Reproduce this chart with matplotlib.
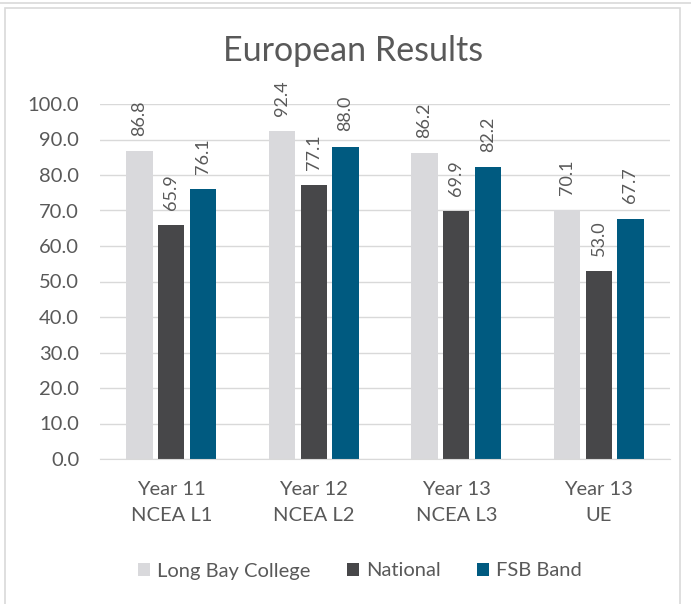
import numpy as np
import matplotlib.pyplot as plt
from matplotlib.patches import Rectangle

plt.rcParams['font.family'] = ['Lato', 'DejaVu Sans']

# results by year level
categories = ['Year 11\nNCEA L1', 'Year 12\nNCEA L2', 'Year 13\nNCEA L3', 'Year 13\nUE']
series_names = ['Long Bay College', 'National', 'FSB Band']
long_bay = [86.8, 92.4, 86.2, 70.1]
national = [65.9, 77.1, 69.9, 53.0]
fsb_band = [76.1, 88.0, 82.2, 67.7]
yticks = [0, 10, 20, 30, 40, 50, 60, 70, 80, 90, 100]

colors = ['#d9d9dc', '#474749', '#005a80']
text_col = '#595959'

fig = plt.figure(figsize=(6.91, 6.04), dpi=100)
ax = fig.add_axes([100 / 691, 1 - 459 / 604, 570 / 691, 355 / 604])

# chart frame
fig.patches.append(Rectangle((5 / 691, -0.01), 675 / 691, 1 - 8 / 604 + 0.01,
                             transform=fig.transFigure, fill=False,
                             edgecolor='#d9d9d9', linewidth=1.2))
fig.add_artist(plt.Line2D([0, 1], [1 - 3 / 604, 1 - 3 / 604], transform=fig.transFigure,
                          color='#d9d9d9', linewidth=1.2))

x = np.arange(len(categories))
width = 0.185
step = 0.222
for i, (vals, name) in enumerate(zip([long_bay, national, fsb_band], series_names)):
    pos = x + (i - 1) * step
    ax.bar(pos, vals, width, color=colors[i], label=name, zorder=3)
    for p, v in zip(pos, vals):
        ax.text(p, v + 4.3, f'{v:.1f}', rotation=90, ha='center', va='bottom',
                fontsize=13, color=text_col)

ax.set_xlim(-0.5, len(categories) - 0.5)
ax.set_ylim(0, 100)
ax.set_yticks(yticks)
ax.set_yticklabels([f'{t:.1f}' for t in yticks], fontsize=14.5, color=text_col)
ax.set_xticks(x)
ax.set_xticklabels(categories, fontsize=14.5, color=text_col, linespacing=1.65)
ax.tick_params(length=0)
ax.tick_params(axis='y', pad=15)
ax.tick_params(axis='x', pad=16)
ax.grid(axis='y', color='#d9d9d9', linewidth=1, zorder=0)
for s in ['top', 'right', 'left']:
    ax.spines[s].set_visible(False)
ax.spines['bottom'].set_color('#d9d9d9')
ax.spines['bottom'].set_zorder(4)

fig.text(353 / 691, 1 - 51 / 604, 'European Results', ha='center', va='center',
         fontsize=24.5, color=text_col)

fig.legend(loc='center', bbox_to_anchor=(360 / 691, 1 - 571 / 604), ncol=3,
           frameon=False, fontsize=14.5, handlelength=0.6, handleheight=0.6,
           handletextpad=0.35, columnspacing=1.8, labelcolor=text_col)

fig.savefig('out.png', dpi=100)
